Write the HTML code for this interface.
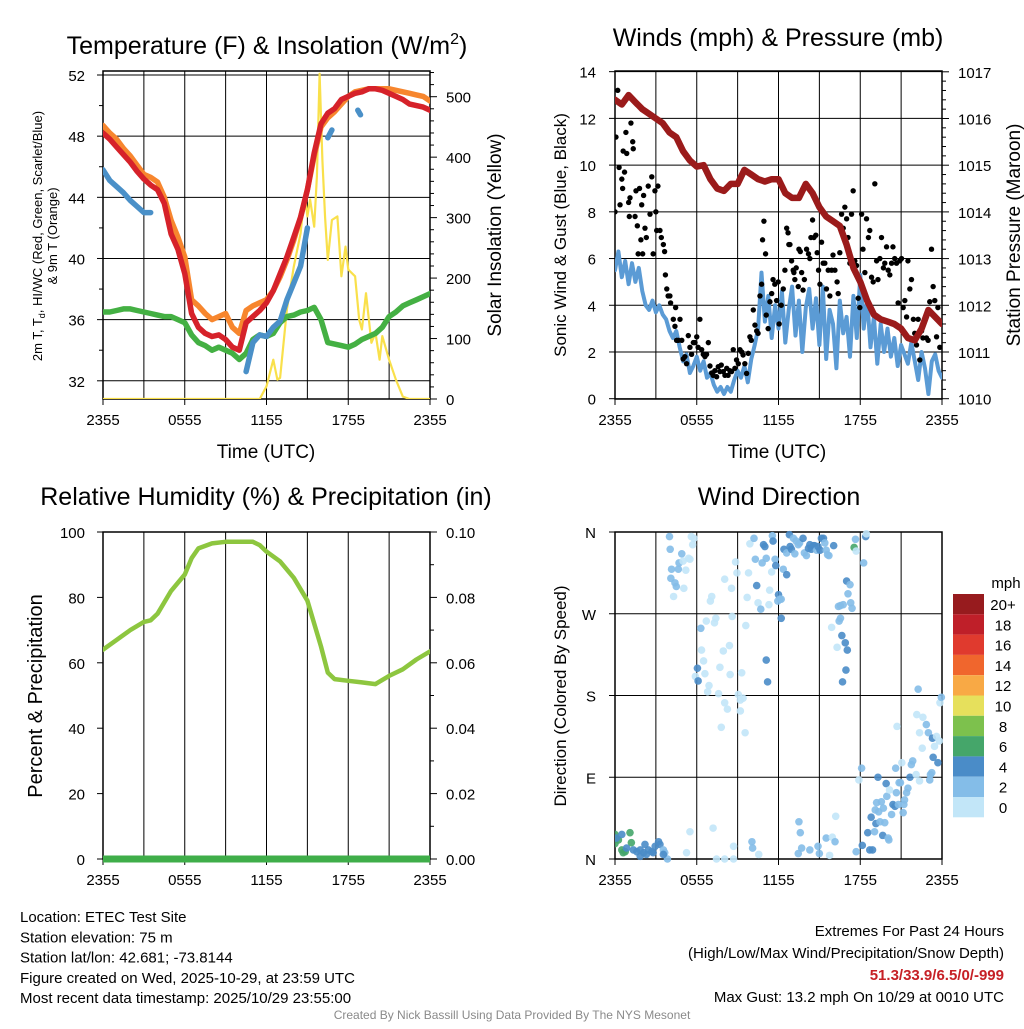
<!DOCTYPE html>
<html><head><meta charset="utf-8"><style>
body{margin:0;background:#fff;}
svg text{font-family:"Liberation Sans",sans-serif;fill:#000;}
</style></head><body>
<svg id="c" width="1024" height="1024" xmlns="http://www.w3.org/2000/svg"></svg>
<script>
// ===== DATA =====
const xTickLabels = ["2355","0555","1155","1755","2355"];
const xTickHours = [0,6,12,18,24];
const tempHours = [0,0.5,1,1.5,2,2.5,3,3.5,4,4.5,5,5.5,6,6.5,7,7.5,8,8.5,9,9.5,10,10.5,11,11.5,12,12.5,13,13.5,14,14.5,15,15.5,16,16.5,17,17.5,18,18.5,19,19.5,20,20.5,21,21.5,22,22.5,23,23.5,24];
const temp2m = [48.2,47.8,47.3,46.8,46.3,45.7,45.2,44.8,44.5,43.6,41.6,40.6,39.0,36.4,35.5,35.1,34.9,35.0,34.7,34.2,34.0,35.8,36.2,36.6,37.1,37.9,39.0,40.1,41.4,42.7,44.5,46.9,48.8,49.5,49.8,50.4,50.6,50.8,50.9,51.1,51.1,51.0,50.8,50.6,50.4,50.1,50.0,49.9,49.7];
const temp9m = [48.7,48.2,47.8,47.2,46.7,46.1,45.5,45.3,45.0,44.0,42.5,41.4,40.1,37.3,36.9,36.4,36.0,36.2,36.4,35.5,35.1,36.6,36.9,37.1,37.3,37.9,38.8,39.9,41.2,42.7,44.5,46.7,48.6,49.2,49.6,50.1,50.6,50.9,51.0,51.1,51.1,51.1,51.1,51.0,50.9,50.8,50.7,50.6,50.3];
const dewpoint = [36.5,36.5,36.6,36.7,36.7,36.6,36.5,36.4,36.3,36.2,36.2,36.0,35.8,35.0,34.5,34.3,34.0,34.2,34.0,33.8,33.4,33.8,34.7,35.0,34.9,35.1,35.8,36.2,36.3,36.5,36.6,36.8,36.0,34.5,34.4,34.3,34.2,34.4,34.7,34.9,35.1,35.5,36.2,36.5,36.9,37.1,37.3,37.5,37.7];
const hiwcHours = [0,0.5,1,1.5,2,2.5,3,3.5,null,10.5,11,11.5,12,12.5,13,13.5,14,14.5,15,null,16.5,16.8,null,18.7,18.9];
const hiwcValues = [45.8,45.1,44.7,44.3,43.8,43.4,43.0,43.0,null,32.6,34.5,35.0,34.9,35.5,35.9,37.3,38.4,39.5,42.0,null,47.9,48.4,null,49.7,49.4];
const solarHours = [0,11.5,12,12.5,12.8,13,13.5,14,14.5,14.8,15,15.2,15.5,15.7,15.9,16.1,16.3,16.5,16.8,17.2,17.5,17.8,18,18.5,18.8,19,19.3,19.7,20,20.3,20.5,21,21.5,22,22.5,24];
const solarValues = [0,0,21,65,32,35,148,219,274,340,302,330,285,368,538,395,300,230,296,302,203,252,214,203,131,115,175,93,109,65,104,65,32,4,0,0];
const windValues = [5.5,6.3,5.2,5.9,4.9,5.8,5.0,5.6,4.6, 4.0,3.8,4.2,3.7,4.0,3.6,3.4,2.9, 2.6,2.9,2.2,1.6,1.9,1.1,1.4,1.8, 1.2,1.6,0.9,1.1,0.6,0.3,0.5,0.2, 0.5,0.3,0.8,1.2,0.9,1.4,0.7,1.7, 2.3,3.0,5.4,3.3,4.4,2.6,4.0,3.0, 4.6,2.4,3.8,4.8,2.7,4.2,2.0,3.9, 4.7,3.0,4.3,2.3,4.8,1.7,3.8,3.2, 1.3,4.2,2.8,3.5,1.8,4.4,2.6,5.3, 3.0,4.3,2.2,3.5,1.5,3.2,2.0,3.0, 1.8,2.6,1.4,2.3,1.9,1.5,2.4,1.6, 0.8,2.0,1.3,0.2,1.6,1.9,1.2,0.9];
const windStepHours = 0.25;
const pressure = [1016.4,1016.3,1016.5,1016.35,1016.2,1016.1,1016.0,1015.9,1015.7,1015.6,1015.3,1015.1,1014.97,1015.0,1014.7,1014.5,1014.45,1014.6,1014.6,1014.9,1014.8,1014.7,1014.65,1014.7,1014.7,1014.4,1014.3,1014.3,1014.6,1014.4,1014.1,1013.9,1013.8,1013.7,1013.3,1012.8,1012.5,1012.1,1011.8,1011.7,1011.65,1011.6,1011.5,1011.3,1011.25,1011.5,1011.9,1011.75,1011.6];
const gusts = [[0,8.0],[0.07,11.2],[0.2,13.2],[0.3,9.9],[0.37,8.3],[0.5,9.4],[0.56,9.0],[0.6,10.6],[0.7,9.7],[0.8,11.4],[0.86,10.5],[1.0,8.4],[1.05,7.8],[1.1,8.6],[1.17,11.8],[1.3,11.0],[1.34,10.7],[1.47,7.8],[1.54,8.9],[1.64,7.4],[1.7,6.2],[1.8,9.0],[1.9,6.8],[1.96,8.3],[2.03,6.2],[2.1,8.7],[2.2,7.3],[2.3,6.9],[2.44,9.1],[2.57,7.9],[2.7,9.5],[2.8,6.2],[2.93,8.9],[3.0,8.0],[3.06,7.2],[3.15,9.1],[3.3,7.2],[3.4,6.9],[3.55,6.6],[3.64,6.3],[3.7,5.3],[3.8,4.7],[3.9,4.4],[4.03,4.4],[4.08,4.1],[4.28,3.4],[4.4,3.1],[4.45,3.9],[4.52,2.5],[4.65,2.5],[4.77,3.4],[4.9,2.5],[5.0,1.7],[5.13,1.8],[5.25,1.5],[5.38,2.7],[5.5,2.2],[5.62,1.9],[5.75,2.4],[5.87,2.4],[6.0,2.65],[6.1,2.2],[6.23,3.4],[6.36,2.1],[6.48,1.9],[6.6,1.8],[6.72,1.9],[6.85,2.4],[6.97,1.4],[7.1,1.1],[7.2,1.0],[7.33,1.2],[7.46,0.94],[7.58,1.37],[7.7,1.16],[7.8,1.44],[7.95,1.16],[8.07,1.0],[8.2,1.3],[8.3,1.0],[8.43,1.2],[8.56,1.16],[8.68,2.1],[8.8,1.3],[8.92,1.66],[9.05,1.5],[9.17,2.1],[9.3,2.0],[9.4,1.87],[9.53,1.5],[9.66,1.08],[9.78,1.94],[9.9,2.65],[10.0,2.5],[10.15,3.8],[10.27,3.15],[10.4,2.9],[10.5,2.8],[10.64,4.4],[10.76,4.9],[10.83,6.8],[10.93,7.6],[11.05,6.2],[11.1,3.58],[11.24,3.0],[11.37,4.15],[11.5,4.5],[11.6,5.1],[11.73,4.9],[11.86,4.2],[11.98,5.0],[12.05,3.2],[12.2,4.0],[12.35,4.7],[12.47,5.5],[12.6,7.3],[12.7,7.1],[12.76,6.6],[12.84,6.6],[12.96,5.9],[13.08,5.5],[13.13,5.4],[13.2,5.1],[13.3,5.6],[13.45,4.8],[13.5,6.4],[13.6,6.3],[13.7,5.4],[13.8,4.65],[13.9,5.1],[14.06,6.4],[14.2,6.2],[14.3,6.0],[14.38,6.9],[14.5,7.65],[14.6,6.9],[14.74,7.0],[14.84,6.25],[14.94,5.5],[15.04,4.9],[15.16,6.7],[15.28,5.8],[15.4,5.8],[15.52,4.7],[15.65,5.5],[15.77,4.4],[15.9,5.5],[16.0,6.15],[16.14,5.5],[16.3,5.0],[16.38,4.5],[16.5,6.25],[16.63,7.9],[16.75,7.3],[16.87,8.2],[17.0,7.7],[17.1,6.9],[17.24,5.8],[17.36,7.9],[17.48,8.9],[17.6,5.9],[17.73,5.7],[17.85,4.3],[17.97,3.9],[18.1,7.9],[18.2,6.4],[18.34,5.4],[18.46,7.7],[18.6,6.9],[18.7,7.2],[18.83,5.2],[18.95,5.0],[19.07,9.2],[19.2,5.9],[19.3,5.1],[19.44,6.0],[19.56,6.9],[19.7,5.6],[19.8,5.8],[19.93,6.5],[20.05,5.5],[20.17,5.3],[20.3,5.8],[20.4,6.5],[20.53,6.0],[20.66,5.8],[20.78,4.1],[20.9,5.9],[21.03,6.0],[21.15,3.9],[21.27,4.2],[21.4,3.5],[21.5,5.9],[21.64,4.7],[21.76,5.1],[21.9,3.4],[22.0,2.8],[22.13,2.3],[22.25,3.4],[22.37,1.66],[22.5,2.9],[22.6,2.6],[22.74,3.4],[22.86,2.6],[22.98,2.5],[23.1,4.15],[23.23,6.4],[23.35,4.8],[23.47,4.2],[23.6,2.65],[23.7,3.9],[23.84,2.2]];
const rhHours = [0,1,2,3,3.5,4,5,6,6.5,7,8,9,10,11,11.5,12,13,14,15,15.5,16,16.5,17,18,19,20,21,22,23,24];
const rhValues = [64,67,70,72.5,73,75,82,87,92,95,96.5,97,97,97,96,94,91,86,79,72,65,57,55,54.5,54,53.5,56,58,61,63.5];
const precipHours = [0,24];
const precipValues = [0,0];
const dirObs = [[0,17,7],[0,27,7],[0.25,21,7],[0.5,10,7],[0.6,7,7],[0.75,8,7],[1.1,29,7],[1.2,18,7],[0.1,23,5],[0.5,27,5],[0.85,12,5],[1.35,10,5],[1.6,8,5],[1.85,3,5],[2.1,7,5],[2.2,16,5],[2.45,10,5],[2.7,8,5],[2.95,14,5],[3.2,19,5],[3.3,16,5],[1.85,10,5],[2.3,5,5],[2.8,7,5],[3.55,10,3],[3.65,7,3],[3.85,0,3],[3.55,5,5],
[4.0,355,3],[4.05,341,3],[4.15,319,3],[4.1,309,3],[4.4,304,3],[4.5,300,3],[4.65,319,3],[4.9,336,3],[4.7,326,3],[5.0,328,1],[5.4,331,1],[5.2,318,1],[5.05,298,1],[4.3,289,1],[5.5,330,1],[5.6,355,1],[5.8,353,1],[5.7,346,1],
[6.3,254,3],[6.7,262,1],[7.3,260,1],[7.4,265,1],[7.1,289,1],[7.0,284,1],[6.35,230,1],[6.5,218,1],[6.05,210,5],[5.9,201,1],[6.1,196,5],[6.6,204,1],[6.9,191,1],[6.8,184,1],[7.6,182,1],[7.7,211,1],[7.95,229,1],[8.4,235,1],[8.45,203,1],[8.05,172,1],[8.25,165,1],[7.8,145,1],[9.05,181,1],[9.2,175,1],[9.4,177,1],[9.3,205,1],[9.2,163,1],[9.55,139,1],[8.6,267,1],[9.6,257,1],[8.05,308,1],[8.55,298,1],[8.85,327,1],[8.95,315,1],[9.8,315,1],[9.7,288,1],[9.9,347,1],[10.2,353,3],[10.3,330,3],[10.4,301,5],[10.5,282,1],[10.7,275,3],[10.8,326,3],[10.9,346,5],[11.0,344,5],[11.1,331,3],[11.3,280,1],[11.35,296,1],[11.5,316,1],[11.55,356,3],[11.6,350,5],[11.75,330,3],[11.8,323,5],[12.0,291,5],[11.95,284,3],[12.1,286,3],[12.2,286,3],[12.2,265,5],[11.1,219,5],[11.2,195,5],
[12.4,341,5],[12.6,337,3],[12.8,357,5],[12.85,344,5],[12.95,341,5],[13.1,353,3],[13.2,336,3],[13.3,350,3],[13.45,346,3],[13.55,348,3],[13.8,353,5],[13.9,337,3],[14.05,334,3],[14.2,342,5],[14.3,346,5],[14.4,341,5],[14.55,345,5],[14.65,345,5],[14.8,340,3],[14.9,344,5],[15.05,340,5],[15.15,353,5],[15.3,353,5],[15.4,348,3],[15.5,340,3],[15.6,335,3],[15.7,334,3],[16.05,345,5],[12.35,319,3],[12.6,313,5],
[16.4,278,3],[16.55,279,3],[16.75,280,3],[17.0,306,5],[17.1,292,3],[17.25,302,3],[17.3,282,3],[17.4,276,3],[16.45,262,3],[16.55,265,3],[15.9,255,1],[16.3,233,1],[16.65,246,5],[16.9,238,5],[17.05,230,5],[16.95,208,5],[16.7,195,5],[17.55,343,7],[17.65,352,3],[17.7,339,1],[18.25,326,3],[18.4,355,5],[18.45,358,1],
[5.5,30,1],[5.25,7,1],[7.2,34,1],[7.45,0,1],[8.05,0,1],[8.7,0,1],[8.7,14,1],[10.05,19,3],[10.1,12,3],[10.55,5,1],[13.5,41,3],[13.6,29,3],[13.45,6,3],[13.7,12,3],[14.3,10,3],[14.9,14,3],[15.0,6,3],[15.5,23,3],[15.75,4,1],[15.95,24,1],[16.15,19,3],[16.2,47,1],
[17.7,8,3],[17.9,87,1],[18.1,100,3],[18.15,15,5],[18.55,29,5],[18.7,10,5],[18.8,46,5],[18.9,10,5],[19.05,30,3],[19.15,39,5],[19.1,54,3],[19.2,62,3],[19.3,90,5],[19.35,52,3],[19.45,41,3],[19.55,63,3],[19.65,26,5],[19.7,56,3],[19.8,40,3],[19.9,83,5],[19.95,69,3],[20.05,23,3],[20.1,21,3],[20.15,76,1],[20.3,49,3],[20.4,60,5],[20.55,58,5],[20.6,100,3],[20.65,73,3],[20.7,146,1],[20.8,60,3],[20.85,84,3],[20.95,84,3],[21.05,106,1],[21.15,51,3],[21.2,60,3],[21.25,65,3],[21.4,73,3],[21.5,78,3],[21.65,90,5],[21.75,104,3],[21.85,108,3],[22.1,93,1],[22.15,159,1],[22.35,86,1],[22.25,187,3],[22.35,139,1],[22.55,122,1],[22.6,156,1],[22.85,148,3],[23.0,139,3],[23.1,87,3],[23.15,93,3],[23.25,95,3],[23.3,133,5],[23.35,112,5],[23.45,124,1],[23.6,135,1],[23.7,106,5],[23.8,130,1],[23.85,172,1],[23.95,178,3]];
const speedBins = [0,2,4,6,8,10,12,14,16,18,20];
const speedLabels = ["0","2","4","6","8","10","12","14","16","18","20+"];
const speedColors = ["#c2e6f8","#84bde8","#4a8cc8","#45a66a","#7dc14d","#e6e05c","#f8a945","#f0662d","#e03a2e","#bf1f29","#971b1e"];

// ===== HELPERS =====
const NS="http://www.w3.org/2000/svg";
const svg=document.getElementById('c');
function mk(tag,attrs,parent){const e=document.createElementNS(NS,tag);for(const k in attrs)e.setAttribute(k,attrs[k]);(parent||svg).appendChild(e);return e;}
function txt(s,x,y,size,anchor,parent,extra){const t=mk('text',Object.assign({x:x,y:y,'font-size':size,'text-anchor':anchor||'start'},extra||{}),parent);t.textContent=s;return t;}
function pathFrom(xs,ys,fx,fy){let d='',pen=false;for(let i=0;i<xs.length;i++){if(xs[i]===null||ys[i]===null){pen=false;continue;}d+=(pen?'L':'M')+fx(xs[i]).toFixed(1)+' '+fy(ys[i]).toFixed(1);pen=true;}return d;}
function colorFor(s){let c=speedColors[0];for(let i=0;i<speedBins.length;i++){if(s>=speedBins[i])c=speedColors[i];}return c;}

function frame(x0,y0,x1,y1,clipId){
  const cp=mk('clipPath',{id:clipId});mk('rect',{x:x0,y:y0,width:x1-x0,height:y1-y0},cp);
}
function vgrid(x0,x1,y0,y1,g){for(let h=0;h<=24;h+=3){const x=x0+h*(x1-x0)/24;mk('line',{x1:x,y1:y0,x2:x,y2:y1,stroke:'#000','stroke-width':1},g);}}
function xTicks(x0,x1,y1,g){for(let i=0;i<xTickHours.length;i++){const x=x0+xTickHours[i]*(x1-x0)/24;mk('line',{x1:x,y1:y1,x2:x,y2:y1+6,stroke:'#000'},g);txt(xTickLabels[i],x,y1+26,15,'middle',g);}}

// ===== PANEL 1 =====
(function(){
const X0=103,X1=430,Y0=71,Y1=399;
const g=mk('g',{});
frame(X0,Y0,X1,Y1,'cp1');
const fx=h=>X0+h*(X1-X0)/24, fy=t=>75+(52-t)*15.29, fs=w=>Y1-w*0.6046;
vgrid(X0,X1,Y0,Y1,g);
[32,36,40,44,48,52].forEach(t=>{mk('line',{x1:X0,y1:fy(t),x2:X1,y2:fy(t),stroke:'#000'},g);mk('line',{x1:X0-6,y1:fy(t),x2:X0,y2:fy(t),stroke:'#000'},g);txt(String(t),X0-18,fy(t)+6,15,'end',g);});
[34,38,42,46,50].forEach(t=>mk('line',{x1:X0-4,y1:fy(t),x2:X0,y2:fy(t),stroke:'#000'},g));
for(let w=0;w<=540;w+=20){mk('line',{x1:X1,y1:fs(w),x2:X1+(w%100===0?7:4),y2:fs(w),stroke:'#000'},g);}
[0,100,200,300,400,500].forEach(w=>txt(String(w),X1+16,fs(w)+6,15,'start',g));
mk('rect',{x:X0,y:Y0,width:X1-X0,height:Y1-Y0,fill:'none',stroke:'#000','stroke-width':1.5},g);
xTicks(X0,X1,Y1,g);
const L=mk('g',{'clip-path':'url(#cp1)'},g);
const ys=mk('path',{d:pathFrom(solarHours,solarValues,fx,fs),fill:'none',stroke:'#f9e04b','stroke-width':2.2,'stroke-linejoin':'round'},L);

const lg=mk('path',{d:pathFrom(tempHours,dewpoint,fx,fy),fill:'none',stroke:'#44b043','stroke-width':5.5,'stroke-linejoin':'round','stroke-linecap':'round'},L);

const lb=mk('path',{d:pathFrom(hiwcHours,hiwcValues,fx,fy),fill:'none',stroke:'#4a90c8','stroke-width':5.5,'stroke-linejoin':'round','stroke-linecap':'round'},L);

const lo=mk('path',{d:pathFrom(tempHours,temp9m,fx,fy),fill:'none',stroke:'#f7862e','stroke-width':5.5,'stroke-linejoin':'round','stroke-linecap':'round'},L);

const lr=mk('path',{d:pathFrom(tempHours,temp2m,fx,fy),fill:'none',stroke:'#d6222a','stroke-width':5.5,'stroke-linejoin':'round','stroke-linecap':'round'},L);

const t=txt('Temperature (F) & Insolation (W/m',267,54,25,'middle',g);const sup=mk('tspan',{dy:-10,'font-size':16},t);sup.textContent='2';const cl=mk('tspan',{dy:10},t);cl.textContent=')';

txt('Time (UTC)',266,458,19,'middle',g);
const a1=txt('2m T, T',0,0,13,'middle',g,{transform:'translate(42,236) rotate(-90)'});const sb=mk('tspan',{dy:3,'font-size':9},a1);sb.textContent='d';const r1=mk('tspan',{dy:-3},a1);r1.textContent=', HI/WC (Red, Green, Scarlet/Blue)';
txt('& 9m T (Orange)',0,0,13,'middle',g,{transform:'translate(57,236) rotate(-90)'});
txt('Solar Insolation (Yellow)',0,0,19,'middle',g,{transform:'translate(501,235) rotate(-90)'});
})();

// ===== PANEL 2 =====
(function(){
const X0=615,X1=942,Y0=71,Y1=399;
const g=mk('g',{});
frame(X0,Y0,X1,Y1,'cp2');
const fx=h=>X0+h*(X1-X0)/24, fw=v=>398.7-v*23.36, fp=p=>398.7-(p-1010)*46.7;
vgrid(X0,X1,Y0,Y1,g);
for(let v=0;v<=14;v+=2){mk('line',{x1:X0,y1:fw(v),x2:X1,y2:fw(v),stroke:'#000'},g);mk('line',{x1:X0-6,y1:fw(v),x2:X0,y2:fw(v),stroke:'#000'},g);txt(String(v),X0-19,fw(v)+6,15,'end',g);}
for(let p=1010;p<=1017.01;p+=0.2){const major=Math.abs(p-Math.round(p))<0.01;mk('line',{x1:X1,y1:fp(p),x2:X1+(major?7:4),y2:fp(p),stroke:'#000'},g);}
for(let p=1010;p<=1017;p++)txt(String(p),X1+16,fp(p)+6,15,'start',g);
mk('rect',{x:X0,y:Y0,width:X1-X0,height:Y1-Y0,fill:'none',stroke:'#000','stroke-width':1.5},g);
xTicks(X0,X1,Y1,g);
const L=mk('g',{'clip-path':'url(#cp2)'},g);
const wh=windValues.map((v,i)=>i*windStepHours);
const lw=mk('path',{d:pathFrom(wh,windValues,fx,fw),fill:'none',stroke:'#5b9bd5','stroke-width':4,'stroke-linejoin':'round','stroke-linecap':'round'},L);

const gg=mk('g',{},L);
gusts.forEach(p=>{const c=mk('circle',{cx:fx(p[0]),cy:fw(p[1]),r:2.7,fill:'#000'},gg);

});
const lp=mk('path',{d:pathFrom(tempHours,pressure,fx,fp),fill:'none',stroke:'#9b1b1b','stroke-width':6.5,'stroke-linejoin':'round','stroke-linecap':'round'},L);

txt('Winds (mph) & Pressure (mb)',778,46,25,'middle',g);
txt('Time (UTC)',777,458,19,'middle',g);
txt('Sonic Wind & Gust (Blue, Black)',0,0,17,'middle',g,{transform:'translate(566,235) rotate(-90)'});
txt('Station Pressure (Maroon)',0,0,19,'middle',g,{transform:'translate(1020,235) rotate(-90)'});
})();

// ===== PANEL 3 =====
(function(){
const X0=103,X1=430,Y0=532,Y1=859;
const g=mk('g',{});
frame(X0,Y0-4,X1,Y1+6,'cp3');
const fx=h=>X0+h*(X1-X0)/24, fr=r=>Y1-r*3.27, fq=q=>Y1-q*3270;
vgrid(X0,X1,Y0,Y1,g);
for(let r=0;r<=100;r+=20){mk('line',{x1:X0-6,y1:fr(r),x2:X0,y2:fr(r),stroke:'#000'},g);txt(String(r),X0-18,fr(r)+6,15,'end',g);}
for(let q=0;q<=0.1001;q+=0.02){mk('line',{x1:X1,y1:fq(q),x2:X1+7,y2:fq(q),stroke:'#000'},g);txt(q.toFixed(2),X1+16,fq(q)+6,15,'start',g);}
for(let q=0.01;q<0.1;q+=0.02)mk('line',{x1:X1,y1:fq(q),x2:X1+4,y2:fq(q),stroke:'#000'},g);
mk('rect',{x:X0,y:Y0,width:X1-X0,height:Y1-Y0,fill:'none',stroke:'#000','stroke-width':1.5},g);
xTicks(X0,X1,Y1,g);
const L=mk('g',{'clip-path':'url(#cp3)'},g);
const lq=mk('path',{d:pathFrom(precipHours,precipValues,fx,fq),fill:'none',stroke:'#3fae49','stroke-width':7},L);

const lh=mk('path',{d:pathFrom(rhHours,rhValues,fx,fr),fill:'none',stroke:'#8dc63f','stroke-width':4.5,'stroke-linejoin':'round','stroke-linecap':'round'},L);

txt('Relative Humidity (%) & Precipitation (in)',266,505,25,'middle',g);
txt('Percent & Precipitation',0,0,20,'middle',g,{transform:'translate(42,696) rotate(-90)'});
})();

// ===== PANEL 4 =====
(function(){
const X0=615,X1=942,Y0=532,Y1=859;
const g=mk('g',{});
frame(X0,Y0-4,X1+4,Y1+4,'cp4');
const fx=h=>X0+h*(X1-X0)/24, fd=d=>Y1-d*(Y1-Y0)/360;
vgrid(X0,X1,Y0,Y1,g);
const dl=['N','E','S','W','N'];
for(let i=0;i<5;i++){const y=fd(i*90);mk('line',{x1:X0,y1:y,x2:X1,y2:y,stroke:'#000'},g);mk('line',{x1:X0-6,y1:y,x2:X0,y2:y,stroke:'#000'},g);txt(dl[i],X0-19,y+6,15,'end',g);}
mk('rect',{x:X0,y:Y0,width:X1-X0,height:Y1-Y0,fill:'none',stroke:'#000','stroke-width':1.5},g);
xTicks(X0,X1,Y1,g);
const L=mk('g',{'clip-path':'url(#cp4)'},g);
dirObs.forEach(p=>{const c=mk('circle',{cx:fx(p[0]),cy:fd(p[1]),r:3.8,fill:colorFor(p[2]),'fill-opacity':0.9},L);

});
txt('Wind Direction',779,505,25,'middle',g);
txt('Direction (Colored By Speed)',0,0,17,'middle',g,{transform:'translate(566,696) rotate(-90)'});
// colorbar
const cb=mk('g',{});
txt('mph',1006,588,15,'middle',cb);
const n=speedColors.length;
for(let i=0;i<n;i++){const idx=n-1-i;const y=594+i*20.3;
const r=mk('rect',{x:953,y:y,width:31,height:20.3,fill:speedColors[idx]},cb);


txt(speedLabels[idx],1003,y+16,15,'middle',cb);}
})();

// ===== FOOTER =====
(function(){
const g=mk('g',{});
['Location: ETEC Test Site','Station elevation: 75 m','Station lat/lon: 42.681; -73.8144','Figure created on Wed, 2025-10-29, at 23:59 UTC','Most recent data timestamp: 2025/10/29 23:55:00'].forEach((s,i)=>txt(s,20,922+i*20.3,15,'start',g));
const e=mk('g',{});
txt('Extremes For Past 24 Hours',1004,936,15,'end',e);
txt('(High/Low/Max Wind/Precipitation/Snow Depth)',1004,958,15,'end',e);
const r=txt('51.3/33.9/6.5/0/-999',1004,980,15,'end',e,{'font-weight':'bold'});r.style.fill='#c62026';
txt('Max Gust: 13.2 mph On 10/29 at 0010 UTC',1004,1002,15,'end',e);
const c=txt('Created By Nick Bassill Using Data Provided By The NYS Mesonet',512,1019,12,'middle');c.style.fill='#8a8a8a';

})();
</script>
</body></html>
